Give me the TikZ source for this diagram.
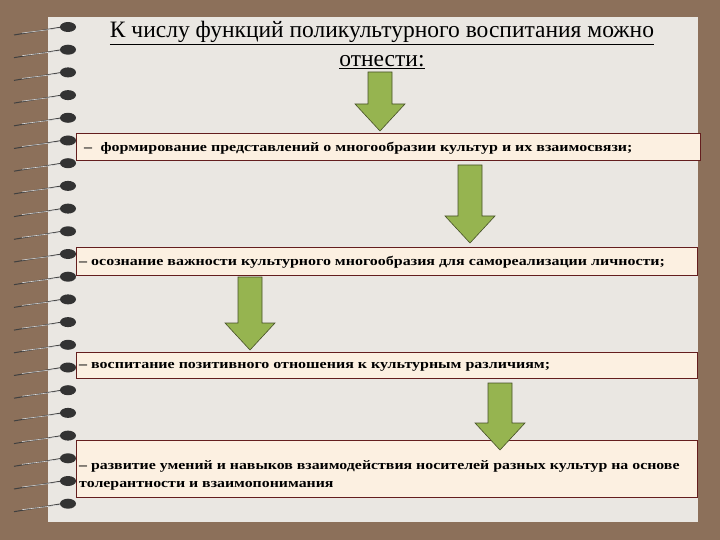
\documentclass[tikz,border=0pt]{standalone}
\usepackage{fontspec}
\setmainfont{Liberation Serif}
\definecolor{frame}{RGB}{140,112,90}
\definecolor{page}{RGB}{234,231,226}
\definecolor{boxfill}{RGB}{252,240,225}
\definecolor{boxline}{RGB}{100,30,30}
\definecolor{arrfill}{RGB}{150,180,80}
\definecolor{arrline}{RGB}{70,80,40}
\newcommand{\wide}[1]{\scalebox{1.23}[1]{#1}}
\begin{document}
\begin{tikzpicture}[x=1pt,y=-1pt,
 box/.style={draw=boxline,line width=1pt,fill=boxfill,anchor=north west,inner sep=0pt},
 txt/.style={font=\bfseries\fontsize{13}{19}\selectfont,anchor=west,align=left,inner sep=0pt},
 ttl/.style={font=\fontsize{23.5}{26}\selectfont},
 arr/.style={draw=arrline,line width=0.6pt,fill=arrfill}]
\useasboundingbox (0,0) rectangle (720,540);
\fill[frame] (0,0) rectangle (720,540);
\fill[page] (48,17) rectangle (698,522);
\foreach \i in {0,...,21}{
  \pgfmathsetmacro\yy{27+22.7*\i}
  \draw[black!75,line width=1pt] (62,\yy) -- (14,\yy+8);
  \draw[white!70!gray,line width=0.6pt] (62,\yy+1) -- (22,\yy+6);
  \fill[black!80] (68,\yy) ellipse (8 and 5);
}
\node[ttl] (t1) at (382,33) {\underline{К числу функций поликультурного воспитания можно}};
\node[ttl] (t2) at (382,62) {\underline{отнести:}};
\node[box,minimum width=624,minimum height=27] (b1) at (76,133) {};
\node[txt] (l1) at (84,148) {\wide{–\; формирование представлений о многообразии культур и их взаимосвязи;}};
\node[box,minimum width=621,minimum height=28] (b2) at (76,247) {};
\node[txt] (l2) at (79,262) {\wide{– осознание важности культурного многообразия для самореализации личности;}};
\node[box,minimum width=621,minimum height=26] (b3) at (76,352) {};
\node[txt] (l3) at (79,367) {\wide{– воспитание позитивного отношения к культурным различиям;}};
\node[box,minimum width=621,minimum height=57] (b4) at (76,440) {};
\node[txt] (l4) at (79,466) {\scalebox{1.22}[1]{– развитие умений и навыков взаимодействия носителей разных культур на основе}};
\node[txt] (l5) at (79,486) {\scalebox{1.22}[1]{толерантности и взаимопонимания}};
\foreach \cx/\ya/\yb in {380/72/131, 470/165/243, 250/277/350, 500/383/450}{
  \draw[arr] (\cx-12,\ya) -- (\cx+12,\ya) -- (\cx+12,\yb-27) -- (\cx+25,\yb-27) -- (\cx,\yb) -- (\cx-25,\yb-27) -- (\cx-12,\yb-27) -- cycle;
}
\end{tikzpicture}
\end{document}
